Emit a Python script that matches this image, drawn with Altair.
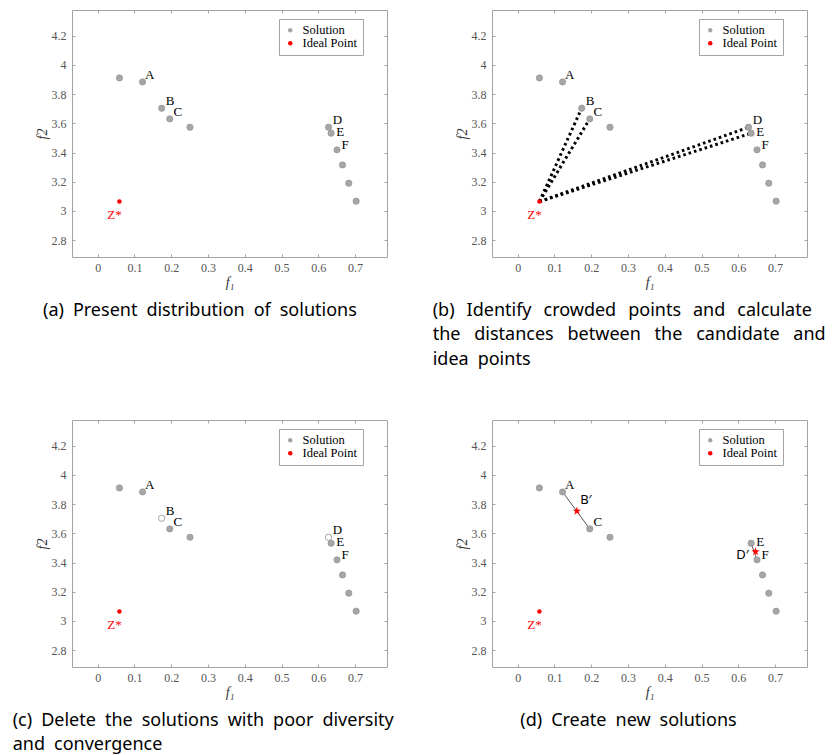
import altair as alt
import pandas as pd

# ---------------- data ----------------
sol_f1 = [0.059, 0.122, 0.174, 0.196, 0.251, 0.628, 0.635, 0.651, 0.666, 0.683, 0.703]
sol_f2 = [3.910, 3.883, 3.703, 3.630, 3.573, 3.573, 3.532, 3.418, 3.315, 3.190, 3.067]
sol_names = ["", "A", "B", "C", "", "D", "E", "F", "", "", ""]

ideal_f1 = [0.059]
ideal_f2 = [3.064]
ideal_names = ["Z*"]

crowded = ["B", "C", "D", "E"]          # panel (b): distances to the ideal point
deleted = ["B", "D"]                    # panel (c): removed solutions
new_names = ["B\u2032", "D\u2032"]      # panel (d): new solutions
new_f1 = [0.161, 0.647]
new_f2 = [3.752, 3.474]
new_segments = [("A", "C"), ("E", "F")]

x_ticks = [0, 0.1, 0.2, 0.3, 0.4, 0.5, 0.6, 0.7]
y_ticks = [2.8, 3.0, 3.2, 3.4, 3.6, 3.8, 4.0, 4.2]
legend_labels = ["Solution", "Ideal Point"]

captions = {
    "a": ["(a) Present distribution of solutions"],
    "b": ["(b) Identify crowded points and calculate",
          "the distances between the candidate and",
          "idea points"],
    "c": ["(c) Delete the solutions with poor diversity",
          "and convergence"],
    "d": ["(d) Create new solutions"],
}

# ---------------- styles ----------------
SERIF = "Liberation Serif, serif"
SANS = "Noto Sans"
FRAME = "#a3a3a3"
GRAY = "#a6a6a6"
RED = "#ff0000"
W, H = 315, 247
STAR = ("M0,-1 L0.2245,-0.309 L0.951,-0.309 L0.363,0.118 L0.588,0.809 L0,0.382 "
        "L-0.588,0.809 L-0.363,0.118 L-0.951,-0.309 L-0.2245,-0.309 Z")

label_offsets = {"A": (7, -7), "B": (8.5, -7), "C": (8, -7), "D": (9, -7),
                 "E": (9, -1), "F": (8, -4.5)}
new_offsets = [(9, -11), (-13, 3)]

sol = pd.DataFrame({"f1": sol_f1, "f2": sol_f2, "name": sol_names, "kind": legend_labels[0]})
ideal = pd.DataFrame({"f1": ideal_f1, "f2": ideal_f2, "name": ideal_names, "kind": legend_labels[1]})
newpts = pd.DataFrame({"f1": new_f1, "f2": new_f2, "name": new_names})

xs = alt.Scale(domain=[-0.07, 0.787], nice=False, zero=False)
ys = alt.Scale(domain=[2.685, 4.375], nice=False, zero=False)
cscale = alt.Scale(domain=legend_labels, range=[GRAY, RED])

ax_font = dict(labelFont=SERIF, labelFontSize=12, labelColor="#555555", titleFont=SERIF,
               titleFontStyle="italic", titleFontWeight="normal", titleFontSize=14,
               titleColor="#333333")
x_main = alt.Axis(orient="bottom", values=x_ticks, format="~g", domain=False, grid=False,
                  tickColor=FRAME, tickSize=3, offset=-3, labelPadding=5, title="f\u2081",
                  titlePadding=2, **ax_font)
y_main = alt.Axis(orient="left", values=y_ticks, format="~g", domain=False, grid=False,
                  tickColor=FRAME, tickSize=3, offset=-3, labelPadding=6, title="f2",
                  titlePadding=2, **ax_font)
x_top = alt.Axis(orient="top", values=x_ticks, labels=False, title=None, domain=False,
                 grid=False, tickColor=FRAME, tickSize=3, offset=-3)
y_right = alt.Axis(orient="right", values=y_ticks, labels=False, title=None, domain=False,
                   grid=False, tickColor=FRAME, tickSize=3, offset=-3)
legend = alt.Legend(orient="none", legendX=207, legendY=9, title=None, strokeColor=FRAME,
                    fillColor="white", padding=5, labelFont=SERIF, labelFontSize=12.5,
                    labelColor="black", symbolSize=20, symbolType="circle", rowPadding=0,
                    labelOffset=6, symbolStrokeWidth=0)


def X(axis=None):
    return alt.X("f1:Q", scale=xs, axis=axis)


def Y(axis=None):
    return alt.Y("f2:Q", scale=ys, axis=axis)


def text_layers(df, names, offsets, font, color="black"):
    out = []
    for n in names:
        dx, dy = offsets[n]
        out.append(alt.Chart(df).transform_filter(alt.datum.name == n)
                   .mark_text(font=font, fontSize=13, color=color, dx=dx, dy=dy,
                              align="center", baseline="middle")
                   .encode(x=X(), y=Y(), text="name:N"))
    return out


def segment_frame(pairs):
    rows = []
    for i, (a, b) in enumerate(pairs):
        rows.append({"seg": i, "o": 0, "f1": a[0], "f2": a[1]})
        rows.append({"seg": i, "o": 1, "f1": b[0], "f2": b[1]})
    return pd.DataFrame(rows)


def point_of(n):
    r = sol[sol["name"] == n].iloc[0]
    return (float(r["f1"]), float(r["f2"]))


def panel(key, dx, gap):
    layers = [alt.Chart(sol).mark_point(opacity=0).encode(x=X(x_top), y=Y(y_right))]
    solid = sol
    names = ["A", "B", "C", "D", "E", "F"]
    if key == "b":
        pairs = [((ideal_f1[0], ideal_f2[0]), point_of(n)) for n in crowded]
        layers.append(alt.Chart(segment_frame(pairs))
                      .mark_line(color="black", strokeWidth=3, strokeDash=[2.6, 3], strokeCap="butt")
                      .encode(x=X(), y=Y(), detail="seg:N", order="o:Q"))
    if key in ("c", "d"):
        solid = sol[~sol["name"].isin(deleted)]
    if key == "d":
        names = ["A", "C", "E", "F"]
        pairs = [(point_of(a), point_of(b)) for a, b in new_segments]
        layers.append(alt.Chart(segment_frame(pairs)).mark_line(color="#555555", strokeWidth=1)
                      .encode(x=X(), y=Y(), detail="seg:N", order="o:Q"))
    layers.append(alt.Chart(solid).mark_circle(size=40, opacity=1, stroke="#8e8e8e", strokeWidth=0.6)
                  .encode(x=X(x_main), y=Y(y_main),
                          color=alt.Color("kind:N", scale=cscale, legend=legend)))
    if key == "c":
        layers.append(alt.Chart(sol[sol["name"].isin(deleted)])
                      .mark_circle(size=40, opacity=1, fill="white", stroke="#8e8e8e", strokeWidth=0.8)
                      .encode(x=X(), y=Y()))
    layers.append(alt.Chart(ideal).mark_circle(size=20, opacity=1)
                  .encode(x=X(), y=Y(), color=alt.Color("kind:N", scale=cscale, legend=legend)))
    if key == "d":
        layers.append(alt.Chart(newpts).mark_point(shape=STAR, filled=True, color=RED, size=80, opacity=1)
                      .encode(x=X(), y=Y()))
        for i in range(len(new_names)):
            ddx, ddy = new_offsets[i]
            layers.append(alt.Chart(newpts.iloc[[i]].reset_index(drop=True))
                          .mark_text(font=SANS, fontSize=13, color="black", dx=ddx, dy=ddy)
                          .encode(x=X(), y=Y(), text="name:N"))
    layers += text_layers(sol, names, label_offsets, SERIF)
    layers += text_layers(ideal, ["Z*"], {"Z*": (-5, 13)}, SERIF, RED)

    text = [ln.replace(" ", g) for ln, g in zip(captions[key], gap)]
    title = alt.TitleParams(text=text, orient="bottom", anchor="start", frame="group", dx=dx,
                            offset=12.5, font=SANS, fontSize=18, fontWeight="normal",
                            color="black", lineHeight=24.5, align="left")
    return (alt.layer(*layers)
            .resolve_axis(x="independent", y="independent")
            .properties(width=W, height=H, title=title))


EN = "\u2002"
EN_THIN = "\u2002\u2009"
EN_THIN_HAIR = "\u2002\u2009\u200a"

chart = (alt.concat(panel("a", -29, [EN]),
                    panel("b", -59.3, [EN_THIN, EN_THIN_HAIR, EN]),
                    panel("c", -59.3, [EN, EN]),
                    panel("d", 28.3, [EN]),
                    columns=2, spacing=alt.RowColnumber(row=163, column=105), bounds="flush")
         .resolve_scale(color="independent")
         .resolve_legend(color="independent")
         .configure_view(stroke=FRAME, strokeWidth=1)
         .configure_legend(labelFont=SERIF)
         .properties(padding={"left": 4, "top": 1, "right": 2, "bottom": 2}))

chart.save("out.html", embed_options={"renderer": "svg", "actions": False})
